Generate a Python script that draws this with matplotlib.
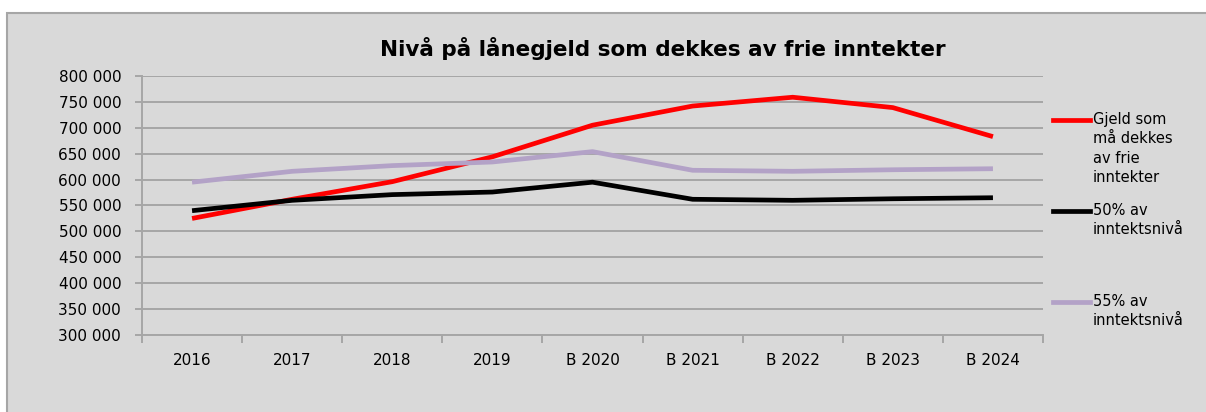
import numpy as np
import matplotlib.pyplot as plt
from matplotlib.patches import Rectangle
from matplotlib.lines import Line2D
from matplotlib.ticker import FuncFormatter

plt.rcParams['font.family'] = ['DejaVu Sans']

years = ['2016', '2017', '2018', '2019', 'B 2020', 'B 2021', 'B 2022', 'B 2023', 'B 2024']
gjeld = [525000, 562000, 596000, 644000, 705000, 742000, 759000, 739000, 683000]
niva50 = [540000, 560000, 571000, 576000, 595000, 562000, 560000, 563000, 565000]
niva55 = [595000, 616000, 627000, 634000, 654000, 618000, 616000, 619000, 621000]

series = [
    ('Gjeld som\nmå dekkes\nav frie\ninntekter', gjeld, '#ff0000'),
    ('50% av\ninntektsnivå', niva50, '#000000'),
    ('55% av\ninntektsnivå', niva55, '#b3a2c7'),
]

fig = plt.figure(figsize=(12.06, 4.12), dpi=100, facecolor='white')

# grey chart-area background with border
bg = Rectangle((7 / 1206, -0.1), 1.2, 1.1 - 13 / 412, transform=fig.transFigure,
               facecolor='#d9d9d9', edgecolor='#a6a6a6', linewidth=1.5, zorder=0)
fig.add_artist(bg)

ax = fig.add_axes([142 / 1206, 1 - 335 / 412, (1043 - 142) / 1206, (335 - 76) / 412])
ax.patch.set_alpha(0)

x = np.arange(len(years))
for label, vals, col in series:
    ax.plot(x, vals, color=col, linewidth=3.4, solid_capstyle='butt', zorder=3)

ax.set_xlim(-0.5, len(years) - 0.5)
ax.set_ylim(300000, 800000)
ax.set_yticks(np.arange(300000, 800001, 50000))
ax.yaxis.set_major_formatter(FuncFormatter(lambda v, p: f'{int(v):,}'.replace(',', ' ')))
ax.grid(axis='y', color='#a6a6a6', linewidth=1.4, zorder=1)

ax.set_xticks(x)
ax.set_xticklabels(years)
ax.set_xticks(np.arange(-0.5, len(years), 1), minor=True)
ax.tick_params(axis='x', which='major', length=0, pad=13, labelsize=11)
ax.tick_params(axis='x', which='minor', length=6, width=1.4, color='#a6a6a6')
ax.tick_params(axis='y', length=5, width=1.4, color='#a6a6a6', labelsize=11, pad=10)

for s in ['top', 'right']:
    ax.spines[s].set_visible(False)
for s in ['left', 'bottom']:
    ax.spines[s].set_color('#a6a6a6')
    ax.spines[s].set_linewidth(1.4)

fig.text(663 / 1206, 1 - 48 / 412, 'Nivå på lånegjeld som dekkes av frie inntekter',
         ha='center', va='center', fontsize=15.5, fontweight='bold')

# legend on the right
leg_y = [120, 211, 302]
for (label, vals, col), yy in zip(series, leg_y):
    yf = 1 - yy / 412
    fig.add_artist(Line2D([1053 / 1206, 1090 / 1206], [yf, yf], transform=fig.transFigure,
                          color=col, linewidth=3.4))
    fig.text(1093 / 1206, yf + 8 / 412, label, ha='left', va='top', fontsize=10.5,
             linespacing=1.36)

fig.savefig('out.png', dpi=100)
